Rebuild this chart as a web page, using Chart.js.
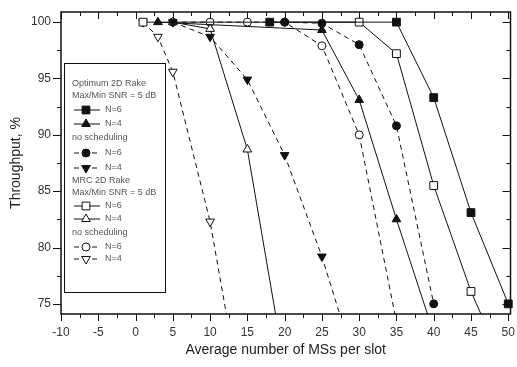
<!DOCTYPE html>
<html>
<head>
<meta charset="utf-8">
<script src="https://cdn.jsdelivr.net/npm/chart.js@4.4.1/dist/chart.umd.min.js"></script>
<style>
  html, body { margin: 0; padding: 0; background: #fff; }
</style>
</head>
<body>
<canvas id="chart" width="517" height="367"></canvas>
<script>
// axis ticks
const xTicks = [-10, -5, 0, 5, 10, 15, 20, 25, 30, 35, 40, 45, 50];
const yTicks = [75, 80, 85, 90, 95, 100];

// Optimum 2D Rake
const optN6X = [18, 35, 40, 45, 50];
const optN6Y = [100, 100, 93.3, 83.1, 75.0];
const optN4X = [3, 25, 30, 35, 40];
const optN4Y = [100, 99.3, 93.1, 82.5, 72.4];
// Optimum, no scheduling
const optNsN6X = [20, 25, 30, 35, 40];
const optNsN6Y = [100, 99.9, 98.0, 90.8, 75.0];
const optNsN4X = [5, 10, 15, 20, 25, 30];
const optNsN4Y = [100, 98.7, 94.9, 88.2, 79.2, 68.5];
// MRC 2D Rake
const mrcN6X = [1, 30, 35, 40, 45, 50];
const mrcN6Y = [100, 100, 97.2, 85.5, 76.1, 68.6];
const mrcN4X = [5, 10, 15, 20];
const mrcN4Y = [100, 99.4, 88.7, 69.4];
// MRC, no scheduling
const mrcNsN6X = [5, 10, 15, 20, 25, 30, 35];
const mrcNsN6Y = [100, 100, 100, 100, 97.9, 90.0, 73.4];
const mrcNsN4X = [1, 3, 5, 10, 15];
const mrcNsN4Y = [100, 98.7, 95.6, 82.3, 63.5];

function pairs(xs, ys) {
  return xs.map((x, i) => ({ x: x, y: ys[i] }));
}

function makeDataset(label, xs, ys, shape, filled, dashed, rotation, radius) {
  return {
    label: label,
    data: pairs(xs, ys),
    borderColor: "#111",
    borderWidth: 1,
    borderDash: dashed ? [5, 4] : [],
    pointStyle: shape,
    pointRotation: rotation,
    pointRadius: radius,
    pointBorderWidth: 1,
    pointBorderColor: "#111",
    pointBackgroundColor: filled ? "#111" : "#fff",
    clip: { left: 10, right: 10, top: 10, bottom: 0 },
    tension: 0,
  };
}

const datasets = [
  makeDataset("Optimum N=6", optN6X, optN6Y, "rect", true, false, 0, 5.5),
  makeDataset("Optimum N=4", optN4X, optN4Y, "triangle", true, false, 0, 5),
  makeDataset("Optimum no sched N=6", optNsN6X, optNsN6Y, "circle", true, true, 0, 4),
  makeDataset("Optimum no sched N=4", optNsN4X, optNsN4Y, "triangle", true, true, 180, 5),
  makeDataset("MRC N=6", mrcN6X, mrcN6Y, "rect", false, false, 0, 5.5),
  makeDataset("MRC N=4", mrcN4X, mrcN4Y, "triangle", false, false, 0, 5),
  makeDataset("MRC no sched N=6", mrcNsN6X, mrcNsN6Y, "circle", false, true, 0, 4),
  makeDataset("MRC no sched N=4", mrcNsN4X, mrcNsN4Y, "triangle", false, true, 180, 5),
];

function midpoints(ticks) {
  const out = [];
  for (let i = 0; i < ticks.length - 1; i++) out.push((ticks[i] + ticks[i + 1]) / 2);
  return out;
}

// frame and tick marks (out on left/bottom, in on top/right)
const frameAndTicks = {
  id: "frameAndTicks",
  beforeDatasetsDraw(chart) {
    const { ctx, chartArea: a, scales } = chart;
    ctx.save();
    ctx.strokeStyle = "#111";
    ctx.lineWidth = 1;
    ctx.beginPath();
    const xs = [[xTicks, 7], [midpoints(xTicks), 4]];
    for (const [vals, len] of xs) {
      for (const v of vals) {
        const px = Math.round(scales.x.getPixelForValue(v)) + 0.5;
        ctx.moveTo(px, a.bottom); ctx.lineTo(px, a.bottom + len);
        ctx.moveTo(px, a.top); ctx.lineTo(px, a.top + len);
      }
    }
    const ys = [[yTicks, 8], [midpoints(yTicks), 4]];
    for (const [vals, len] of ys) {
      for (const v of vals) {
        const py = Math.round(scales.y.getPixelForValue(v)) + 0.5;
        ctx.moveTo(a.left - len, py); ctx.lineTo(a.left, py);
        ctx.moveTo(a.right - len, py); ctx.lineTo(a.right, py);
      }
    }
    ctx.stroke();
    ctx.lineWidth = 1.5;
    ctx.strokeRect(a.left, a.top, a.right - a.left, a.bottom - a.top);
    ctx.restore();
  },
};

function marker(ctx, shape, filled, rotation, x, y, r) {
  ctx.beginPath();
  if (shape === "circle") {
    ctx.arc(x, y, r, 0, Math.PI * 2);
  } else if (shape === "rect") {
    const s = r * Math.SQRT1_2;
    ctx.rect(x - s, y - s, 2 * s, 2 * s);
  } else {
    const d = rotation ? -1 : 1;
    ctx.moveTo(x, y - d * r);
    ctx.lineTo(x + r * 0.866, y + d * r / 2);
    ctx.lineTo(x - r * 0.866, y + d * r / 2);
    ctx.closePath();
  }
  ctx.fillStyle = filled ? "#111" : "#fff";
  ctx.fill();
  ctx.stroke();
}

const legendRows = [
  { text: "Optimum 2D Rake", y: 84 },
  { text: "Max/Min SNR = 5 dB", y: 96 },
  { text: "N=6", y: 110, ds: 0 },
  { text: "N=4", y: 124, ds: 1 },
  { text: "no scheduling", y: 138 },
  { text: "N=6", y: 153, ds: 2 },
  { text: "N=4", y: 168, ds: 3 },
  { text: "MRC 2D Rake", y: 181 },
  { text: "Max/Min SNR = 5 dB", y: 193 },
  { text: "N=6", y: 206, ds: 4 },
  { text: "N=4", y: 219, ds: 5 },
  { text: "no scheduling", y: 233 },
  { text: "N=6", y: 247, ds: 6 },
  { text: "N=4", y: 259, ds: 7 },
];

const boxLegend = {
  id: "boxLegend",
  afterDraw(chart) {
    const ctx = chart.ctx;
    ctx.save();
    ctx.fillStyle = "#fff";
    ctx.fillRect(64, 63, 101, 229);
    ctx.strokeStyle = "#111";
    ctx.lineWidth = 1;
    ctx.strokeRect(64.5, 63.5, 101, 229);
    ctx.font = "9px 'Liberation Sans', Arial, sans-serif";
    ctx.textBaseline = "middle";
    for (const row of legendRows) {
      ctx.fillStyle = "#555";
      if (row.ds === undefined) {
        ctx.fillText(row.text, 72, row.y);
        continue;
      }
      const ds = chart.data.datasets[row.ds];
      ctx.strokeStyle = "#111";
      ctx.setLineDash(ds.borderDash);
      ctx.beginPath();
      ctx.moveTo(74, row.y); ctx.lineTo(100, row.y);
      ctx.stroke();
      ctx.setLineDash([]);
      marker(ctx, ds.pointStyle, ds.pointBackgroundColor === "#111", ds.pointRotation, 86, row.y, ds.pointRadius);
      ctx.fillStyle = "#555";
      ctx.fillText(row.text, 105, row.y);
    }
    ctx.restore();
  },
};

const fontFamily = "'Liberation Sans', Arial, sans-serif";

new Chart(document.getElementById("chart"), {
  type: "line",
  data: { datasets: datasets },
  plugins: [frameAndTicks, boxLegend],
  options: {
    responsive: false,
    animation: false,
    layout: { padding: { top: 12, right: 5, left: 0, bottom: 0 } },
    plugins: {
      legend: { display: false },
      tooltip: { enabled: false },
    },
    scales: {
      x: {
        type: "linear",
        min: -10,
        max: 50.3,
        afterBuildTicks: (scale) => {
          scale.ticks = xTicks.map((v) => ({ value: v }));
        },
        afterFit: (scale) => {
          scale.height = 53;
          scale.paddingRight = 0;
          scale.paddingLeft = 0;
        },
        grid: { display: false, drawTicks: true, tickLength: 8 },
        border: { display: false },
        ticks: {
          padding: 3,
          maxRotation: 0,
          color: "#333",
          font: { family: fontFamily, size: 12 },
        },
        title: {
          display: true,
          text: "Average number of MSs per slot",
          color: "#222",
          font: { family: fontFamily, size: 14 },
          padding: { top: 0, bottom: 8 },
        },
      },
      y: {
        type: "linear",
        min: 74.1,
        max: 100.9,
        afterBuildTicks: (scale) => {
          scale.ticks = yTicks.map((v) => ({ value: v }));
        },
        afterFit: (scale) => {
          scale.width = 61;
        },
        grid: { display: false, drawTicks: true, tickLength: 8 },
        border: { display: false },
        ticks: {
          padding: 2,
          color: "#333",
          font: { family: fontFamily, size: 12 },
        },
        title: {
          display: true,
          text: "Throughput, %",
          color: "#222",
          font: { family: fontFamily, size: 14 },
          padding: { top: 8, bottom: 0 },
        },
      },
    },
  },
});
</script>
</body>
</html>
